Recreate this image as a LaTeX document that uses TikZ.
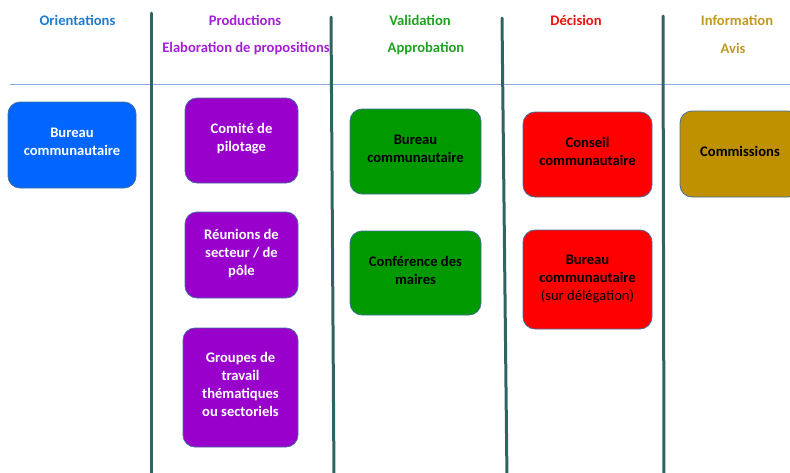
\documentclass[tikz,border=0pt]{standalone}
\usepackage{fontspec}
\setmainfont{Carlito}
\definecolor{sepc}{HTML}{2F6463}
\definecolor{hline}{HTML}{8FAADC}
\definecolor{bordc}{HTML}{41719C}
\definecolor{cblue}{HTML}{0066FF}
\definecolor{cpurp}{HTML}{9900CC}
\definecolor{cgreen}{HTML}{009900}
\definecolor{cred}{HTML}{FF0000}
\definecolor{cgold}{HTML}{BF9000}
\definecolor{tblue}{HTML}{1F7BD0}
\definecolor{tpurp}{HTML}{A21FD6}
\definecolor{tgreen}{HTML}{1FA01F}
\definecolor{tred}{HTML}{F01010}
\definecolor{tgold}{HTML}{C39A1F}
\newcommand{\lowstrut}{\rule[-5.5pt]{0pt}{5.5pt}}
\begin{document}
\begin{tikzpicture}[x=1pt,y=-1pt,
  sep/.style={draw=sepc,line width=3pt,line cap=round},
  head/.style={font=\fontsize{14.6}{17}\selectfont\bfseries,inner sep=0pt,anchor=center},
  box/.style={draw=bordc,line width=0.8pt,rounded corners=12pt,align=center,
    font=\fontsize{14.6}{18}\selectfont\bfseries,inner sep=0pt},
  wbox/.style={box,text=white},
  kbox/.style={box,text=black}]
\useasboundingbox (0,0) rectangle (790,472);
\begin{scope}
\clip (0,0) rectangle (790,472);
% horizontal line
\coordinate (hl) at (10,84);
\coordinate (hr) at (790,84);
\draw[hline,line width=1pt] (hl) -- (hr);
% separators
\coordinate (s1t) at (151,13); \coordinate (s1b) at (151,480);
\coordinate (s2t) at (331,17); \coordinate (s2b) at (334,480);
\coordinate (s3t) at (502,18); \coordinate (s3b) at (507,480);
\coordinate (s4t) at (663,16); \coordinate (s4b) at (664,480);
\draw[sep] (s1t) -- (s1b);
\draw[sep] (s2t) -- (s2b);
\draw[sep] (s3t) -- (s3b);
\draw[sep] (s4t) -- (s4b);
% headers
\node[head,text=tblue] (h1) at (77.5,20.5) {Orientations};
\node[head,text=tpurp] (h2a) at (245,20.5) {Productions};
\node[head,text=tpurp] (h2b) at (246,48.5) {Elaboration de propositions};
\node[head,text=tgreen] (h3a) at (420,20.5) {Validation};
\node[head,text=tgreen] (h3b) at (426,48.5) {Approbation};
\node[head,text=tred] (h4) at (576,20.5) {Décision};
\node[head,text=tgold] (h5a) at (737,20.5) {Information};
\node[head,text=tgold] (h5b) at (733,48.5) {Avis};
% boxes
\node[wbox,fill=cblue,minimum width=128pt,minimum height=86pt] (b1) at (72,145) {Bureau\\communautaire\lowstrut};
\node[wbox,fill=cpurp,minimum width=113pt,minimum height=85pt] (p1) at (241.5,140.5) {Comité de\\pilotage\lowstrut};
\node[wbox,fill=cpurp,minimum width=113pt,minimum height=86pt] (p2) at (241.5,255) {Réunions de\\secteur / de\\pôle\lowstrut};
\node[wbox,fill=cpurp,minimum width=115pt,minimum height=119pt] (p3) at (240.5,387.5) {Groupes de\\travail\\thématiques\\ou sectoriels\lowstrut};
\node[kbox,fill=cgreen,minimum width=131pt,minimum height=85pt] (v1) at (415.5,151.5) {Bureau\\communautaire\lowstrut};
\node[kbox,fill=cgreen,minimum width=131pt,minimum height=84pt] (v2) at (415.5,273) {Conférence des\\maires\lowstrut};
\node[kbox,fill=cred,minimum width=129pt,minimum height=85pt] (d1) at (587.5,154.5) {Conseil\\communautaire\lowstrut};
\node[kbox,fill=cred,minimum width=129pt,minimum height=99pt] (d2) at (587.5,279.5) {Bureau\\communautaire\\{\mdseries(sur délégation)}};
\node[kbox,fill=cgold,minimum width=120pt,minimum height=86pt] (c1) at (740,154) {Commissions\lowstrut};
\end{scope}
\end{tikzpicture}
\end{document}
